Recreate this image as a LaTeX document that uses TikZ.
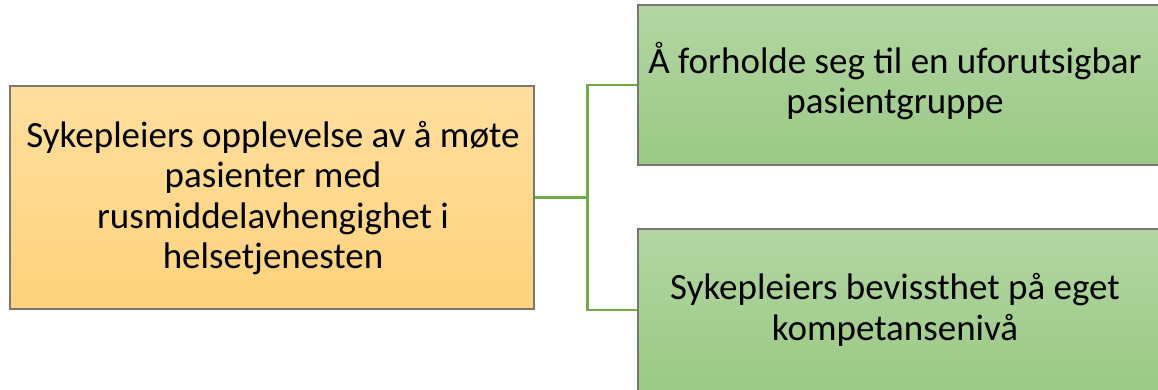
\documentclass[tikz,border=0pt]{standalone}
\usepackage{fontspec}
\setmainfont{Carlito}
\definecolor{orTop}{HTML}{FFDE9E}
\definecolor{orBot}{HTML}{FFD37D}
\definecolor{grTop}{HTML}{B3D6A3}
\definecolor{grBot}{HTML}{9BC985}
\definecolor{edge}{HTML}{7A7670}
\definecolor{conn}{HTML}{70AD47}
\tikzset{
  boxL/.style={draw=edge, line width=1.4pt, top color=orTop, bottom color=orBot, inner sep=0pt},
  boxR/.style={draw=edge, line width=1.4pt, top color=grTop, bottom color=grBot, inner sep=0pt},
  txt/.style={align=center, font=\fontsize{37}{40.5}\selectfont, inner sep=0pt},
  link/.style={draw=conn, line width=2.6pt}
}
\begin{document}
\begin{tikzpicture}[x=1pt,y=-1pt]
\useasboundingbox (0,0) rectangle (1158,390);
\clip (0,0) rectangle (1158,390);
\fill[white] (0,0) rectangle (1158,390);
% boxes
\node[boxL, minimum width=524pt, minimum height=223pt] (L) at (272,197.5) {};
\node[boxR, minimum width=530pt, minimum height=160pt] (T) at (903,85) {};
\node[boxR, minimum width=530pt, minimum height=162pt] (B) at (903,310) {};
% texts
\node[txt] (Lt) at (273,198) {Sykepleiers opplevelse av å møte\\pasienter med\\rusmiddelavhengighet i\\helsetjenesten};
\node[txt] (Tt) at (895,81) {Å forholde seg til en uforutsigbar\\pasientgruppe};
\node[txt] (Bt) at (895,310) {Sykepleiers bevissthet på eget\\kompetansenivå};
% connectors
\draw[link] (L.east) -- ++(53,0) coordinate (j);
\draw[link] (T.west) -| (j) |- (B.west);
\end{tikzpicture}
\end{document}
